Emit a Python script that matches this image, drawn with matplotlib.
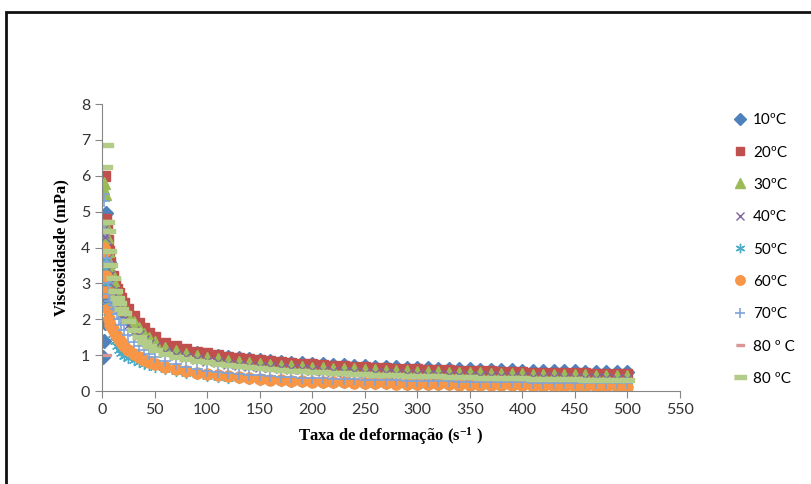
import matplotlib
matplotlib.use("Agg")
import matplotlib.pyplot as plt
from matplotlib.patches import Rectangle

# shear rate (s-1)
rate = [1, 2, 3, 4, 5, 6, 7, 8, 10, 12, 14, 16, 18, 21, 25, 30, 35, 40, 45, 50,
        60, 70, 80, 90, 100, 110, 120, 130, 140, 150, 160, 170, 180, 190, 200,
        210, 220, 230, 240, 250, 260, 270, 280, 290, 300, 310, 320, 330, 340, 350,
        360, 370, 380, 390, 400, 410, 420, 430, 440, 450, 460, 470, 480, 490, 500]

# viscosity per temperature
t10 = [0.95, 1.4, 1.9, 4.95, 2.5, 2.9, 3.6, 3.3, 3.0, 2.8, 2.6, 2.45, 2.3, 2.15, 1.98, 1.82, 1.66, 1.54, 1.44, 1.35,
       1.25, 1.17, 1.11, 1.06, 1.01, 0.97, 0.94, 0.91, 0.88, 0.855, 0.83, 0.81, 0.79, 0.775, 0.76,
       0.745, 0.73, 0.715, 0.70, 0.69, 0.68, 0.67, 0.66, 0.65, 0.64, 0.63, 0.625, 0.615, 0.61, 0.60,
       0.595, 0.59, 0.58, 0.575, 0.57, 0.565, 0.56, 0.555, 0.55, 0.545, 0.54, 0.535, 0.53, 0.525, 0.52]
t20 = [4.0, 3.6, 6.0, 4.8, 4.55, 4.2, 3.9, 3.6, 3.2, 3.0, 2.85, 2.72, 2.6, 2.45, 2.3, 2.1, 1.9, 1.75, 1.62, 1.5,
       1.35, 1.25, 1.17, 1.10, 1.05, 1.00, 0.955, 0.915, 0.885, 0.855, 0.825, 0.80, 0.78, 0.76, 0.74,
       0.72, 0.705, 0.69, 0.675, 0.66, 0.65, 0.635, 0.625, 0.615, 0.605, 0.595, 0.585, 0.575, 0.565, 0.56,
       0.55, 0.545, 0.535, 0.53, 0.52, 0.515, 0.51, 0.505, 0.50, 0.495, 0.49, 0.485, 0.48, 0.475, 0.47]
t30 = [5.65, 5.8, 5.5, 4.6, 4.3, 3.9, 3.6, 3.4, 3.1, 2.85, 2.65, 2.5, 2.38, 2.25, 2.1, 1.92, 1.75, 1.6, 1.47, 1.36,
       1.2, 1.11, 1.04, 0.98, 0.93, 0.89, 0.85, 0.815, 0.785, 0.76, 0.735, 0.71, 0.69, 0.675, 0.655,
       0.64, 0.625, 0.61, 0.60, 0.585, 0.575, 0.565, 0.555, 0.545, 0.535, 0.525, 0.52, 0.51, 0.505, 0.495,
       0.49, 0.48, 0.475, 0.47, 0.465, 0.46, 0.455, 0.45, 0.445, 0.44, 0.435, 0.43, 0.425, 0.42, 0.415]
t40 = [4.5, 4.4, 4.3, 4.0, 3.7, 3.4, 3.2, 3.0, 2.75, 2.55, 2.4, 2.28, 2.15, 2.0, 1.85, 1.68, 1.55, 1.42, 1.32, 1.24,
       1.1, 1.01, 0.95, 0.89, 0.84, 0.80, 0.765, 0.735, 0.705, 0.68, 0.66, 0.64, 0.62, 0.60, 0.585,
       0.57, 0.555, 0.54, 0.53, 0.515, 0.505, 0.495, 0.485, 0.475, 0.465, 0.455, 0.45, 0.44, 0.435, 0.425,
       0.42, 0.41, 0.405, 0.40, 0.395, 0.39, 0.385, 0.38, 0.37, 0.365, 0.36, 0.355, 0.35, 0.345, 0.34]
t50 = [3.5, 3.6, 3.4, 3.0, 2.4, 2.2, 2.0, 1.85, 1.6, 1.4, 1.25, 1.15, 1.06, 0.98, 0.92, 0.86, 0.8, 0.76, 0.72, 0.68,
       0.62, 0.56, 0.51, 0.47, 0.43, 0.40, 0.375, 0.35, 0.33, 0.31, 0.295, 0.28, 0.265, 0.255, 0.245,
       0.235, 0.225, 0.218, 0.21, 0.204, 0.198, 0.192, 0.186, 0.18, 0.175, 0.17, 0.166, 0.162, 0.158, 0.154,
       0.15, 0.146, 0.142, 0.139, 0.136, 0.133, 0.13, 0.127, 0.124, 0.121, 0.118, 0.115, 0.112, 0.11, 0.108]
t60 = [2.75, 4.0, 3.9, 3.2, 2.75, 2.3, 2.0, 1.85, 1.72, 1.62, 1.52, 1.44, 1.36, 1.26, 1.15, 1.03, 0.94, 0.87, 0.81, 0.76,
       0.68, 0.62, 0.56, 0.51, 0.47, 0.44, 0.41, 0.385, 0.36, 0.34, 0.32, 0.305, 0.29, 0.275, 0.265,
       0.255, 0.245, 0.238, 0.23, 0.224, 0.218, 0.212, 0.206, 0.2, 0.195, 0.19, 0.186, 0.182, 0.178, 0.174,
       0.17, 0.166, 0.162, 0.158, 0.155, 0.152, 0.149, 0.146, 0.143, 0.14, 0.137, 0.134, 0.131, 0.128, 0.125]
t70 = [5.5, 5.3, 4.5, 3.7, 3.6, 3.0, 2.7, 2.5, 2.4, 2.3, 2.15, 2.0, 1.85, 1.7, 1.55, 1.38, 1.25, 1.13, 1.03, 0.95,
       0.84, 0.76, 0.68, 0.61, 0.56, 0.53, 0.50, 0.475, 0.455, 0.435, 0.415, 0.40, 0.385, 0.372, 0.36,
       0.35, 0.34, 0.332, 0.325, 0.318, 0.31, 0.304, 0.298, 0.292, 0.286, 0.28, 0.275, 0.27, 0.265, 0.26,
       0.256, 0.252, 0.248, 0.244, 0.24, 0.237, 0.234, 0.231, 0.228, 0.225, 0.222, 0.219, 0.216, 0.213, 0.21]
t80a = [4.45, 4.7, 6.25, 1.0, 4.7, 4.45, 3.9, 3.5, 3.15, 2.8, 2.6, 2.45, 2.3, 2.17, 1.95, 1.7, 1.5, 1.36, 1.25, 1.15,
        1.02, 0.95, 0.89, 0.84, 0.80, 0.76, 0.72, 0.69, 0.66, 0.635, 0.61, 0.59, 0.57, 0.55, 0.535,
        0.52, 0.505, 0.495, 0.48, 0.47, 0.46, 0.45, 0.44, 0.43, 0.42, 0.41, 0.405, 0.395, 0.39, 0.38,
        0.375, 0.37, 0.365, 0.355, 0.35, 0.345, 0.34, 0.335, 0.33, 0.325, 0.32, 0.315, 0.31, 0.305, 0.30]
t80b = [4.45, 4.7, 6.25, 6.85, 4.7, 4.45, 3.9, 3.5, 3.15, 2.8, 2.6, 2.45, 2.3, 2.17, 1.95, 1.7, 1.5, 1.36, 1.25, 1.15,
        1.02, 0.95, 0.89, 0.84, 0.80, 0.76, 0.72, 0.69, 0.66, 0.635, 0.61, 0.59, 0.57, 0.55, 0.535,
        0.52, 0.505, 0.495, 0.48, 0.47, 0.46, 0.45, 0.44, 0.43, 0.42, 0.41, 0.405, 0.395, 0.39, 0.38,
        0.375, 0.37, 0.365, 0.355, 0.35, 0.345, 0.34, 0.335, 0.33, 0.325, 0.32, 0.315, 0.31, 0.305, 0.30]

labels = ["10ºC", "20ºC", "30ºC", "40ºC", "50ºC", "60ºC", "70ºC", "80 º C", "80 ºC"]

plt.rcParams["mathtext.fontset"] = "custom"
plt.rcParams["mathtext.bf"] = "Liberation Serif:bold"
plt.rcParams["mathtext.rm"] = "Liberation Serif:bold"
plt.rcParams["mathtext.default"] = "bf"

fig = plt.figure(figsize=(8.11, 4.84), dpi=100)
ax = fig.add_axes([0.1258, 0.1921, 0.7127, 0.593])

dash = [(-1, -0.3), (1, -0.3), (1, 0.3), (-1, 0.3)]
styles = [
    dict(marker="D", color="#4F81BD", ms=7.5),
    dict(marker="s", color="#C0504D", ms=7.5),
    dict(marker="^", color="#9BBB59", ms=8),
    dict(marker="x", color="#8064A2", ms=7.5, mew=1),
    dict(marker=(6, 2, 0), color="#4BACC6", ms=8, mew=1),
    dict(marker="o", color="#F79646", ms=8),
    dict(marker="+", color="#7FA3D9", ms=9, mew=1.2),
    dict(marker=dash, color="#D99694", ms=7),
    dict(marker=dash, color="#B3CC87", ms=10),
]
series = [t10, t20, t30, t40, t50, t60, t70, t80a, t80b]

handles = []
for vals, lab, st in zip(series, labels, styles):
    h, = ax.plot(rate, vals, linestyle="none", label=lab, mec=st["color"], **st)
    handles.append(h)

ax.set_xlim(0, 550)
ax.set_ylim(0, 8)
ax.set_xticks(range(0, 551, 50))
ax.set_yticks(range(0, 9))
for s in ["top", "right"]:
    ax.spines[s].set_visible(False)
for s in ["left", "bottom"]:
    ax.spines[s].set_color("#868686")
ax.tick_params(colors="#868686", labelcolor="#333333", length=5, labelsize=11.5)
for lab in ax.get_xticklabels() + ax.get_yticklabels():
    lab.set_fontfamily("Lato")

ax.set_xlabel("Taxa de deformação (s$^{-1}$ )", family="Liberation Serif",
              fontweight="bold", fontsize=12, labelpad=6)
ax.set_ylabel("Viscosidasde (mPa)", family="Liberation Serif",
              fontweight="bold", fontsize=12, labelpad=8)

fig.legend(handles=handles, loc="center left", bbox_to_anchor=(0.903, 0.4845),
           frameon=False, handlelength=1, handletextpad=0.35, labelspacing=1.2,
           borderpad=0, borderaxespad=0, markerscale=0.85,
           prop={"family": "Lato", "size": 11})

# outer chart frame
fig.patches.append(Rectangle((6 / 811, -0.05), 1.2, 0.975 + 0.05, transform=fig.transFigure,
                             fill=False, edgecolor="#111111", linewidth=2))

fig.savefig("out.png", dpi=100)
